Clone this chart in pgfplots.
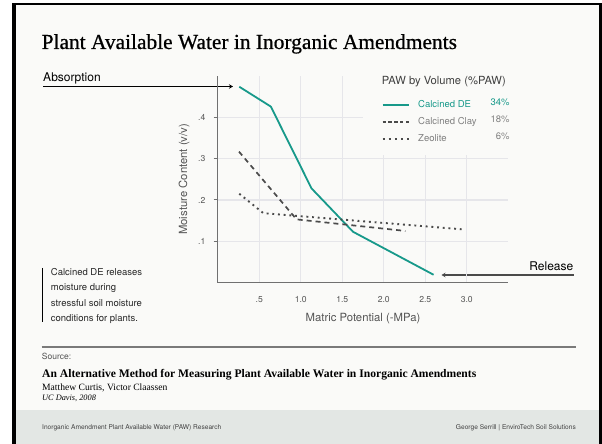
\documentclass[border=0pt]{standalone}
\usepackage{pgfplots}
\pgfplotsset{compat=1.18}
\usetikzlibrary{arrows.meta}
\usepackage{fontspec}
\setmainfont{Liberation Serif}
\setsansfont{TeX Gyre Heros}
\newfontfamily\titlefont[FakeBold=0.7]{Liberation Serif}
\definecolor{cardbg}{HTML}{FAFAF8}
\definecolor{footbg}{HTML}{E3E7E4}
\definecolor{tealc}{HTML}{17998A}
\definecolor{gridc}{HTML}{E6E6EA}
\definecolor{axisc}{HTML}{707070}
\definecolor{labc}{HTML}{555555}
\definecolor{legc}{HTML}{808080}
\definecolor{darkc}{HTML}{4A4A4A}
\definecolor{sepc}{HTML}{7A7A7A}
\begin{document}
\begin{tikzpicture}[x=1pt,y=1pt]
% page and card
\fill[white] (0,0) rectangle (602,444);
\fill[cardbg] (16,0) rectangle (599,441);
\fill[footbg] (16,0) rectangle (599,34);
\fill[black] (12,0) rectangle (16,441);
\fill[black] (12,439) rectangle (602,441);
\fill[black] (599,0) rectangle (602,441);
% title
\node[anchor=base west, inner sep=0pt] at (41.5,395) {\titlefont\fontsize{21.4}{22}\selectfont Plant Available Water in Inorganic Amendments};
% absorption
\node[anchor=base west, inner sep=0pt] at (43,362) {\sffamily\fontsize{12}{12}\selectfont Absorption};
\draw[-{Stealth[length=4pt,width=4.5pt]}, line width=1.1pt] (43,357.5) -- (233,357.5);
% release
\node[anchor=base east, inner sep=0pt] at (573.5,173.3) {\sffamily\fontsize{12}{12}\selectfont Release};
\draw[-{Stealth[length=4pt,width=4.5pt]}, line width=1.3pt, draw=darkc] (573.5,169) -- (441.5,169);
% note
\draw[line width=1.2pt] (42.7,176) -- (42.7,122);
\begin{scope}[every node/.style={anchor=base west, inner sep=0pt, font=\sffamily\fontsize{9.5}{9.5}\selectfont, text=black!85}]
\node at (50.7,168.3) {Calcined DE releases};
\node at (50.7,153) {moisture during};
\node at (50.7,137.7) {stressful soil moisture};
\node at (50.7,122.2) {conditions for plants.};
\end{scope}
% separator and source
\draw[line width=2pt, draw=sepc] (41.7,97.3) -- (575.5,97.3);
\node[anchor=base west, inner sep=0pt, text=labc] at (41.7,84.5) {\sffamily\fontsize{8.5}{8.5}\selectfont Source:};
\node[anchor=base west, inner sep=0pt] at (42,66) {\fontsize{11.6}{12}\selectfont\bfseries An Alternative Method for Measuring Plant Available Water in Inorganic Amendments};
\node[anchor=base west, inner sep=0pt] at (42,53.5) {\fontsize{9.6}{10}\selectfont Matthew Curtis, Victor Claassen};
\node[anchor=base west, inner sep=0pt] at (42,43.5) {\fontsize{8.3}{9}\selectfont\itshape UC Davis, 2008};
% footer
\node[anchor=base west, inner sep=0pt, text=black!75] at (42,14.5) {\sffamily\fontsize{6.6}{7}\selectfont Inorganic Amendment Plant Available Water (PAW) Research};
\node[anchor=base east, inner sep=0pt, text=black!75] at (576,14.5) {\sffamily\fontsize{6.6}{7}\selectfont George Serrill | EnviroTech Soil Solutions};

\begin{axis}[
  at={(217.7pt,161.4pt)}, anchor=origin,
  scale only axis, width=290.6pt, height=206.6pt,
  xmin=0, xmax=3.5, ymin=0, ymax=0.5,
  axis lines=left,
  axis line style={-, draw=axisc, line width=1.2pt},
  xtick={0.5,1,1.5,2,2.5,3},
  xticklabels={.5,1.0,1.5,2.0,2.5,3.0},
  ytick={0.1,0.2,0.3,0.4},
  yticklabels={.1,.2,.3,.4},
  grid=major,
  grid style={draw=gridc, line width=1.2pt},
  tick align=outside,
  major tick length=4pt,
  xtick style={draw=none},
  ytick style={draw=axisc, line width=1pt},
  xticklabel style={anchor=center, inner sep=0pt, yshift=-13.4pt, text=labc, font=\sffamily\fontsize{8.6}{8.6}\selectfont},
  yticklabel style={anchor=east, inner sep=0pt, xshift=-8.2pt, text=labc, font=\sffamily\fontsize{8.6}{8.6}\selectfont},
  xlabel={Matric Potential (-MPa)},
  ylabel={Moisture Content (v/v)},
  xlabel style={at={([yshift=-36.4pt]axis description cs:0.5,0)}, anchor=center, inner sep=0pt, text=labc, font=\sffamily\fontsize{11.3}{11.3}\selectfont},
  ylabel style={at={([xshift=-33.7pt]axis description cs:0,0.5)}, anchor=center, inner sep=0pt, text=labc, font=\sffamily\fontsize{11.3}{11.3}\selectfont},
  legend image code/.code={\draw[#1] (0pt,0pt) -- (26.6pt,0pt); \path[draw=none,fill=none] (0pt,-3pt) rectangle (35.6pt,3pt);},
  legend style={at={(axis cs:1.975,0.389)}, anchor=west, draw=none, fill=none, inner sep=0pt, outer sep=0pt, row sep=8pt, column sep=0pt,
    nodes={inner sep=0pt, text height=7pt, text depth=2pt}, font=\sffamily\fontsize{9.5}{9.5}\selectfont},
  legend cell align=left,
]
\fill[cardbg] (axis cs:1.745,0.31) rectangle (axis cs:3.5,0.5);
\addplot[draw=tealc, line width=1.8pt, line join=round] coordinates {
(0.26,0.474) (0.64,0.426) (1.13,0.228) (1.63,0.123) (2.60,0.019)};
\addlegendentry{\makebox[91.4pt][l]{\textcolor{tealc}{Calcined DE}\hfill\raisebox{2pt}{\textcolor{tealc}{34\%}}}}
\addplot[draw=darkc, line width=1.7pt, dash pattern=on 5pt off 4pt,
  legend image post style={line width=1.5pt, dash pattern=on 3.2pt off 2.65pt}] coordinates {
(0.256,0.317) (0.95,0.153) (2.26,0.125)};
\addlegendentry{\makebox[91.4pt][l]{\textcolor{legc}{Calcined Clay}\hfill\raisebox{2pt}{\textcolor{legc}{18\%}}}}
\addplot[draw=darkc, line width=1.9pt, dash pattern=on 1.9pt off 3.8pt,
  legend image post style={line width=1.9pt, dash pattern=on 2pt off 4.1pt}] coordinates {
(0.26,0.215) (0.55,0.168) (2.94,0.129)};
\addlegendentry{\makebox[91.4pt][l]{\textcolor{legc}{Zeolite}\hfill\raisebox{2pt}{\textcolor{legc}{6\%}}}}
\end{axis}
% legend title (drawn after the axis so nothing covers it)
\node[anchor=base west, inner sep=0pt, text=black!75] at (381.7,359) {\sffamily\fontsize{11.2}{11.2}\selectfont PAW by Volume (\%PAW)};
\end{tikzpicture}
\end{document}
